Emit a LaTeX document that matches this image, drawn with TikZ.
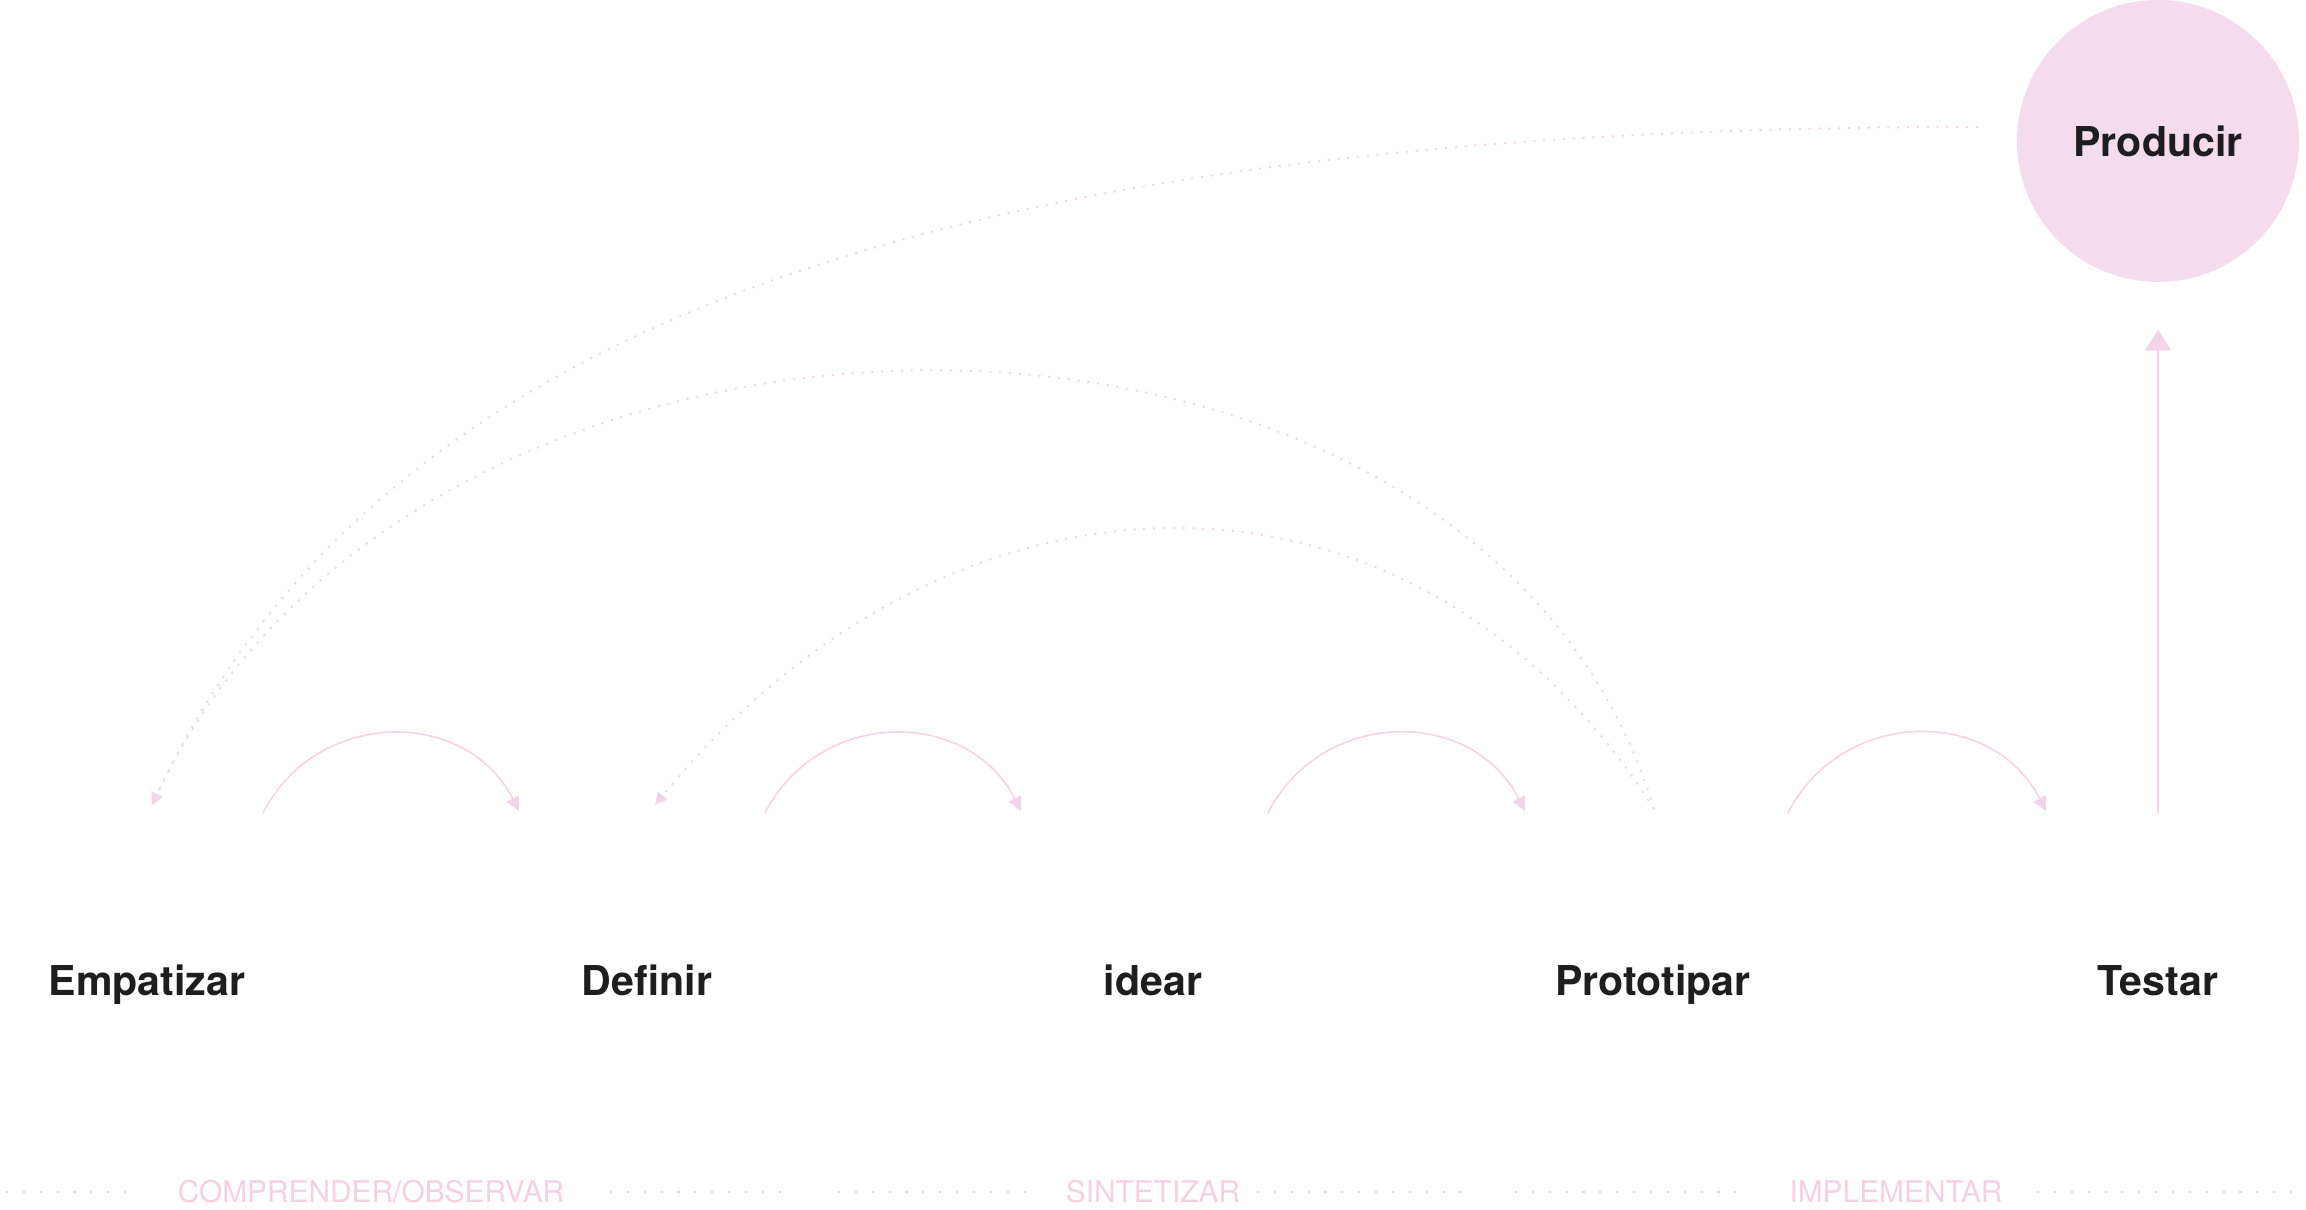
\documentclass[tikz,border=0pt]{standalone}
\usepackage{fontspec}
\setmainfont{TeX Gyre Heros}
\usetikzlibrary{arrows.meta, positioning}
\definecolor{inkdark}{HTML}{1E1E20}
\definecolor{rose}{HTML}{F5DCEC}
\definecolor{roseline}{HTML}{F3D3E7}
\definecolor{rosetext}{HTML}{F5CFE4}

\begin{document}
\begin{tikzpicture}[
  phase/.style={font=\fontsize{11.7}{14}\selectfont\bfseries, text=inkdark,
                anchor=base, inner sep=0pt},
  goal/.style={circle, fill=rose, minimum size=2.82cm, inner sep=0pt,
               font=\fontsize{11.7}{14}\selectfont\bfseries, text=inkdark},
  stage/.style={font=\fontsize{8.5}{10}\selectfont, text=rosetext,
                anchor=base, inner sep=0pt},
  flow/.style={-{Triangle[length=1.4mm, width=1.4mm]}, roseline, line width=0.45pt},
  back/.style={-{Triangle[length=1.2mm, width=1.2mm]}, roseline, line width=0.5pt,
               dash pattern=on 0.6pt off 2.2pt},
  rail/.style={rosetext, line width=0.6pt, dash pattern=on 0.6pt off 4.2pt},
  up/.style={-{Triangle[length=2.1mm, width=2.6mm]}, roseline, line width=0.8pt}
]
\useasboundingbox (0,0) rectangle (23.06,12.10);

% phases
\node[phase] (emp) at (1.47,2.14) {Empatizar};
\node[phase] (def) at (6.47,2.14) {Definir};
\node[phase] (idea) at (11.53,2.14) {idear};
\node[phase] (proto) at (16.53,2.14) {Prototipar};
\node[phase] (test) at (21.58,2.14) {Testar};
\node[goal] (prod) at (21.58,10.69) {Producir};

% groups along the bottom
\node[stage] (comp) at (3.71,0.07) {COMPRENDER/OBSERVAR};
\node[stage] (sint) at (11.53,0.07) {SINTETIZAR};
\node[stage] (impl) at (18.96,0.07) {IMPLEMENTAR};
\foreach \a/\b in {0.06/1.40, 6.10/7.90, 8.38/10.29, 12.57/14.71, 15.15/17.50, 20.37/22.94}
  \draw[rail] (\a,0.18) -- (\b,0.18);

% forward steps
\foreach \i/\a/\b in {1/2.63/5.19, 2/7.65/10.21, 3/12.68/15.25, 4/17.88/20.46} {
  \coordinate (s\i) at (\a,3.97);
  \coordinate (e\i) at (\b,3.99);
  \draw[flow] (s\i) to[out=63, in=117, looseness=1.17] (e\i);
}
\coordinate (test-up) at (21.58,3.97);
\draw[up] (test-up) -- ([yshift=-0.47cm]prod.south);

% loops back
\coordinate (prod-out) at (19.78,10.83);
\coordinate (proto-out) at (16.54,4.01);
\coordinate (emp-in) at (1.52,4.05);
\coordinate (def-in) at (6.55,4.05);
\draw[back] (prod-out) .. controls (9.5,10.83) and (3.8,8.9) .. (emp-in);
\draw[back] (proto-out) .. controls (14.8,9.81) and (4.25,9.86) .. (emp-in);
\draw[back] (proto-out) .. controls (14.2,7.71) and (9.6,7.76) .. (def-in);
\end{tikzpicture}
\end{document}
